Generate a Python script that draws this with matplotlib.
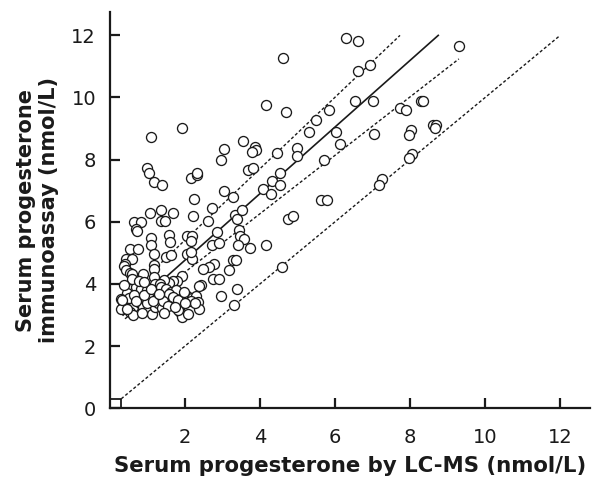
import matplotlib
matplotlib.use("Agg")
import matplotlib.pyplot as plt
import numpy as np

# LC-MS (x) vs immunoassay (y), nmol/L
lcms = [
    6.28, 6.62, 4.60, 9.31, 6.93, 6.60,
    4.16, 4.68, 6.54, 7.00, 5.84, 5.49, 5.31, 6.03, 6.12, 7.05,
    7.73, 7.88, 8.28, 8.35, 8.02, 7.98, 8.62, 8.68, 8.67, 8.04, 7.97,
    4.98, 4.99, 4.44, 5.71, 3.87, 3.89, 3.78,
    1.93, 1.09, 3.54, 3.05, 2.96,
    0.98, 1.05, 1.16, 1.39, 2.15, 2.33, 2.31,
    3.67, 3.80, 4.52, 4.31, 4.54, 4.09, 4.29,
    3.03, 3.29, 2.25, 5.63, 5.78, 7.26, 7.17,
    4.75, 4.89, 4.58, 4.17,
    2.21, 1.07, 1.35, 1.69, 1.37, 1.46, 0.63, 0.84, 0.69, 0.73,
    2.72, 2.60, 3.33, 3.39, 3.51,
    2.84, 3.43, 3.47, 3.57, 3.42, 3.72,
    1.10, 1.09, 1.58, 1.60, 2.05, 2.18, 2.15,
    1.17, 1.49, 1.63, 2.04, 2.18, 2.15,
    0.53, 0.74, 0.44, 0.60, 0.40, 0.38, 0.44, 0.53, 0.60,
    1.16, 1.17, 1.16, 0.87,
    2.71, 2.90, 2.78, 2.65, 2.49, 3.29, 3.35, 3.17,
    2.43, 2.37, 2.75, 2.91, 2.96, 3.38, 3.31,
    1.91, 1.79, 1.67, 1.58, 1.45,
    1.19, 1.32, 0.61, 0.55, 0.70, 0.84, 0.99, 1.37, 1.50, 1.63, 1.77,
    0.40, 0.62, 0.53, 0.62, 0.80, 0.89, 1.02, 1.11, 1.20, 1.29, 1.38,
    1.47, 1.56, 1.69, 1.82, 1.87, 1.91, 2.09, 2.06, 2.18, 2.29, 2.35, 2.37,
    2.15, 2.27, 1.82,
    0.45, 0.30, 0.35, 0.75, 0.95, 1.05, 1.25, 0.50, 0.65, 0.85, 1.00,
    1.15, 0.30, 0.45, 0.70, 0.90, 1.40, 1.10, 0.32,
    0.58, 0.78, 1.30, 1.55, 1.72, 2.00, 0.38, 0.92, 1.45, 1.98,
]
immuno = [
    11.92, 11.83, 11.26, 11.65, 11.06, 10.85,
    9.77, 9.53, 9.90, 9.90, 9.59, 9.28, 8.90, 8.88, 8.49, 8.83,
    9.67, 9.60, 9.88, 9.88, 8.96, 8.79, 9.10, 9.13, 9.02, 8.17, 8.06,
    8.39, 8.11, 8.21, 8.00, 8.42, 8.30, 8.24,
    9.02, 8.72, 8.60, 8.33, 8.00,
    7.73, 7.58, 7.28, 7.19, 7.41, 7.49, 7.58,
    7.67, 7.72, 7.58, 7.31, 7.19, 7.06, 6.90,
    6.99, 6.79, 6.73, 6.71, 6.71, 7.38, 7.19,
    6.10, 6.17, 4.54, 5.26,
    6.17, 6.29, 6.37, 6.28, 6.01, 6.01, 5.99, 5.99, 5.78, 5.70,
    6.45, 6.01, 6.21, 6.10, 6.39,
    5.67, 5.72, 5.55, 5.43, 5.24, 5.16,
    5.48, 5.24, 5.56, 5.35, 5.55, 5.53, 5.37,
    4.97, 4.85, 4.92, 4.95, 4.81, 5.03,
    5.13, 5.13, 4.81, 4.81, 4.65, 4.57, 4.46, 4.35, 4.31,
    4.60, 4.49, 4.22, 4.31,
    5.24, 5.30, 4.65, 4.54, 4.47, 4.76, 4.76, 4.44,
    3.95, 3.92, 4.17, 4.17, 3.61, 3.82, 3.31,
    4.24, 4.09, 4.08, 4.03, 4.12,
    4.01, 4.01, 4.01, 3.85, 3.91, 3.82, 3.79, 3.91, 3.85, 3.74, 3.79,
    3.42, 3.26, 3.10, 2.99, 3.37, 3.26, 3.15, 3.04, 3.26, 3.37, 3.21,
    3.58, 3.69, 3.58, 3.49, 3.10, 2.94, 3.04, 3.60, 3.53, 3.60, 3.42, 3.20,
    3.44, 3.39, 3.15,
    3.70, 3.50, 3.30, 3.55, 3.50, 3.65, 3.55, 3.55, 3.65, 3.05, 3.40,
    3.45, 3.20, 3.20, 3.45, 3.65, 3.45, 3.85, 3.47,
    4.15, 4.10, 3.68, 3.30, 3.25, 3.38, 3.95, 4.05, 3.05, 3.75,
]

# fitted lines: (intercept, slope, x start)
fit_line = (2.62, 1.072, 0.35)
upper_band = (3.11, 1.15, 0.35)
lower_band = (2.50, 0.94, 0.40)
x_max_data = 9.3
loq = 0.3

ink = "#1a1a1a"
fig = plt.figure(figsize=(6.01, 4.83), dpi=100)
ax = fig.add_axes([0.183, 0.155, 0.799, 0.82])

ax.set_xlim(0, 12.8)
ax.set_ylim(0, 12.75)

def draw_line(a, b, x0, style, lw):
    x1 = min(x_max_data, (12.0 - a) / b)
    xs = np.array([x0, x1])
    ax.plot(xs, a + b * xs, color=ink, linestyle=style, lw=lw, zorder=2)

dot = (0, (2.2, 1.6))
draw_line(*fit_line, "-", 1.2)
draw_line(*upper_band, dot, 1.0)
draw_line(*lower_band, dot, 1.0)
# identity line
ax.plot([loq, 12], [loq, 12], color=ink, linestyle=dot, lw=1.0, zorder=2)
# LOQ square
ax.plot([0, loq, loq], [loq, loq, 0], color=ink, lw=1.3, zorder=2)

ax.plot(lcms, immuno, linestyle="none", marker="o", ms=7.2,
        mfc="white", mec=ink, mew=0.95, zorder=3)

for s in ["top", "right"]:
    ax.spines[s].set_visible(False)
for s in ["left", "bottom"]:
    ax.spines[s].set_color(ink)
    ax.spines[s].set_linewidth(1.6)

ax.set_xticks([2, 4, 6, 8, 10, 12])
ax.set_yticks([0, 2, 4, 6, 8, 10, 12])
ax.tick_params(axis="both", direction="in", length=7, width=1.6, color=ink,
               labelsize=14, labelcolor=ink)
ax.tick_params(axis="x", pad=14)
ax.tick_params(axis="y", pad=10)

ax.set_xlabel("Serum progesterone by LC-MS (nmol/L)", fontsize=15.3,
              fontweight="bold", color=ink, labelpad=7)
ax.set_ylabel("Serum progesterone\nimmunoassay (nmol/L)", fontsize=15,
              fontweight="bold", color=ink, labelpad=9, linespacing=1.15)

fig.savefig("out.png", dpi=100)
